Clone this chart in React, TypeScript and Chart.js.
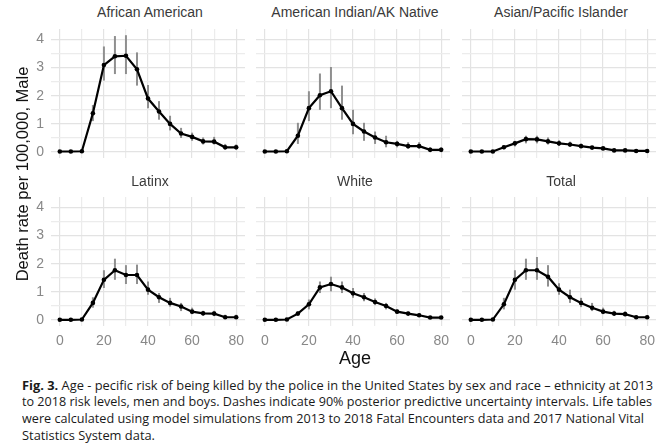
import React, { useEffect, useLayoutEffect, useRef, useState } from "react";
import { Chart, registerables } from "chart.js";
Chart.register(...registerables);

const ages = [0, 5, 10, 15, 20, 25, 30, 35, 40, 45, 50, 55, 60, 65, 70, 75, 80];
const xTicks = [0, 10, 20, 30, 40, 50, 60, 70, 80];
const yTicks = [0, 0.5, 1, 1.5, 2, 2.5, 3, 3.5, 4];

const panelTitles = ["African American", "American Indian/AK Native", "Asian/Pacific Islander", "Latinx", "White", "Total"];

const africanAmerican = [0.02, 0.02, 0.03, 1.38, 3.09, 3.4, 3.42, 2.94, 1.9, 1.44, 1.0, 0.66, 0.54, 0.38, 0.37, 0.17, 0.17];
const africanAmericanLo = [0.0, 0.0, 0.01, 1.1, 2.54, 2.77, 2.77, 2.36, 1.56, 1.15, 0.77, 0.5, 0.4, 0.27, 0.27, 0.08, 0.08];
const africanAmericanHi = [0.05, 0.05, 0.07, 1.67, 3.75, 4.12, 4.15, 3.54, 2.38, 1.81, 1.29, 0.86, 0.69, 0.52, 0.54, 0.29, 0.27];

const amIndian = [0.02, 0.02, 0.03, 0.58, 1.56, 2.02, 2.16, 1.56, 1.0, 0.73, 0.52, 0.35, 0.29, 0.21, 0.21, 0.08, 0.08];
const amIndianLo = [0, 0, 0, 0.29, 1.1, 1.5, 1.56, 1.15, 0.63, 0.4, 0.29, 0.17, 0.17, 0.12, 0.12, 0.03, 0.03];
const amIndianHi = [0.06, 0.06, 0.08, 1.04, 2.16, 2.79, 3.02, 2.36, 1.5, 1.04, 0.73, 0.58, 0.4, 0.35, 0.35, 0.17, 0.17];

const asianPI = [0.02, 0.02, 0.02, 0.17, 0.31, 0.46, 0.45, 0.38, 0.31, 0.27, 0.21, 0.16, 0.13, 0.06, 0.06, 0.04, 0.04];
const asianPILo = [0, 0, 0, 0.1, 0.2, 0.31, 0.31, 0.27, 0.22, 0.18, 0.14, 0.1, 0.08, 0.03, 0.03, 0.01, 0.01];
const asianPIHi = [0.04, 0.04, 0.04, 0.24, 0.4, 0.58, 0.58, 0.52, 0.42, 0.37, 0.3, 0.22, 0.18, 0.1, 0.1, 0.07, 0.07];

const latinx = [0.01, 0.01, 0.02, 0.61, 1.43, 1.77, 1.6, 1.6, 1.08, 0.81, 0.61, 0.48, 0.3, 0.24, 0.23, 0.1, 0.1];
const latinxLo = [0, 0, 0, 0.44, 1.14, 1.43, 1.28, 1.28, 0.9, 0.61, 0.48, 0.32, 0.21, 0.16, 0.14, 0.05, 0.05];
const latinxHi = [0.03, 0.03, 0.04, 0.81, 1.77, 2.18, 1.95, 1.97, 1.37, 0.96, 0.79, 0.61, 0.44, 0.33, 0.33, 0.19, 0.19];

const white = [0.01, 0.01, 0.02, 0.23, 0.56, 1.16, 1.28, 1.16, 0.95, 0.81, 0.64, 0.5, 0.3, 0.23, 0.17, 0.09, 0.09];
const whiteLo = [0, 0, 0, 0.17, 0.38, 0.96, 1.02, 0.96, 0.79, 0.67, 0.53, 0.38, 0.22, 0.17, 0.12, 0.05, 0.05];
const whiteHi = [0.03, 0.03, 0.04, 0.31, 0.73, 1.37, 1.54, 1.37, 1.14, 0.96, 0.77, 0.61, 0.38, 0.3, 0.23, 0.14, 0.14];

const total = [0.01, 0.01, 0.02, 0.56, 1.43, 1.77, 1.77, 1.54, 1.08, 0.81, 0.61, 0.44, 0.3, 0.23, 0.21, 0.1, 0.1];
const totalLo = [0, 0, 0, 0.38, 1.08, 1.43, 1.43, 1.19, 0.9, 0.61, 0.46, 0.32, 0.21, 0.16, 0.14, 0.06, 0.06];
const totalHi = [0.03, 0.03, 0.04, 0.79, 1.77, 2.18, 2.24, 1.95, 1.31, 1.08, 0.79, 0.61, 0.44, 0.33, 0.31, 0.16, 0.16];

const panelValues = [africanAmerican, amIndian, asianPI, latinx, white, total];
const panelLo = [africanAmericanLo, amIndianLo, asianPILo, latinxLo, whiteLo, totalLo];
const panelHi = [africanAmericanHi, amIndianHi, asianPIHi, latinxHi, whiteHi, totalHi];

const captionLines = [
  "Age - pecific risk of being killed by the police in the United States by sex and race \u2013 ethnicity at 2013",
  "to 2018 risk levels, men and boys. Dashes indicate 90% posterior predictive uncertainty intervals. Life tables",
  "were calculated using model simulations from 2013 to 2018 Fatal Encounters data and 2017 National Vital",
  "Statistics System data.",
];
const captionLineWidths = [631, 630, 622, 133];

// layout geometry
const COL_LEFT = [51, 256, 462];
const AREA_W = 198;
const ROW_TOP = [25, 193];
const AREA_H = 133;
const YW = 40;
const XH = 34;
const TICK_FONT = { family: "'Liberation Sans', Arial, sans-serif", size: 14 };

const errorBarPlugin = {
  id: "errorbars",
  beforeDatasetsDraw(chart: any, _args: any, opts: any) {
    const xs = chart.scales.x;
    const ys = chart.scales.y;
    const ctx = chart.ctx;
    ctx.save();
    ctx.strokeStyle = opts.color || "#8f8f8f";
    ctx.lineWidth = opts.width || 2;
    const lo: number[] = opts.lo || [];
    const hi: number[] = opts.hi || [];
    const xv: number[] = opts.x || [];
    for (let i = 0; i < xv.length; i++) {
      const x = xs.getPixelForValue(xv[i]);
      ctx.beginPath();
      ctx.moveTo(x, ys.getPixelForValue(lo[i]));
      ctx.lineTo(x, ys.getPixelForValue(hi[i]));
      ctx.stroke();
    }
    ctx.restore();
  },
};

function Panel({ idx }: { idx: number }) {
  const ref = useRef<HTMLCanvasElement>(null);
  const col = idx % 3;
  const row = Math.floor(idx / 3);
  useEffect(() => {
    if (!ref.current) return;
    const values = panelValues[idx];
    const chart = new Chart(ref.current, {
      type: "line",
      data: {
        datasets: [
          {
            data: ages.map((a, i) => ({ x: a, y: values[i] })),
            borderColor: "#000000",
            borderWidth: 2.2,
            pointRadius: 2.3,
            pointBackgroundColor: "#000000",
            pointBorderWidth: 0,
            tension: 0,
          },
        ],
      },
      options: {
        animation: false,
        responsive: false,
        events: [],
        layout: { padding: 0 },
        plugins: {
          legend: { display: false },
          tooltip: { enabled: false },
          title: { display: false },
          errorbars: { x: ages, lo: panelLo[idx], hi: panelHi[idx], color: "#8f8f8f", width: 2 },
        } as any,
        scales: {
          x: {
            type: "linear",
            min: -4,
            max: 84,
            border: { display: false },
            grid: {
              color: (c: any) => (c.tick && c.tick.value % 20 === 0 ? "#e3e3e3" : "#ececec"),
              lineWidth: 1.2,
              drawTicks: false,
            },
            ticks: {
              autoSkip: false,
              maxRotation: 0,
              padding: 7,
              color: "#888888",
              font: TICK_FONT,
              callback: (v: any) => (row === 1 && Number(v) % 20 === 0 ? String(v) : ""),
            },
            afterBuildTicks: (s: any) => {
              s.ticks = xTicks.map((v) => ({ value: v }));
            },
            afterFit: (s: any) => {
              s.height = XH;
              s.paddingLeft = 0;
              s.paddingRight = 0;
            },
          },
          y: {
            type: "linear",
            min: -0.21,
            max: 4.37,
            border: { display: false },
            grid: {
              color: (c: any) => (c.tick && Number.isInteger(c.tick.value) ? "#e3e3e3" : "#ececec"),
              lineWidth: 1.2,
              drawTicks: false,
            },
            ticks: {
              autoSkip: false,
              padding: 7,
              color: "#888888",
              font: TICK_FONT,
              callback: (v: any) => (col === 0 && Number.isInteger(Number(v)) ? String(v) : ""),
            },
            afterBuildTicks: (s: any) => {
              s.ticks = yTicks.map((v) => ({ value: v }));
            },
            afterFit: (s: any) => {
              s.width = YW;
              s.paddingTop = 0;
              s.paddingBottom = 0;
            },
          },
        },
      },
      plugins: [errorBarPlugin as any],
    });
    return () => chart.destroy();
  }, [idx]);

  const left = COL_LEFT[col] - YW;
  const top = ROW_TOP[row];
  return (
    <canvas
      ref={ref}
      width={YW + AREA_W}
      height={AREA_H + XH}
      style={{ position: "absolute", left, top, width: YW + AREA_W, height: AREA_H + XH }}
    />
  );
}

function CaptionLine({ index, text }: { index: number; text: string }) {
  const ref = useRef<HTMLSpanElement>(null);
  const [scale, setScale] = useState(1);
  useLayoutEffect(() => {
    const el = ref.current;
    if (!el) return;
    const w = el.getBoundingClientRect().width;
    if (w > 0) setScale(captionLineWidths[index] / w);
  }, [index]);
  return (
    <div style={{ height: 16.8, whiteSpace: "nowrap" }}>
      <span
        ref={ref}
        style={{ display: "inline-block", transform: `scaleX(${scale})`, transformOrigin: "0 0" }}
      >
        {index === 0 ? <b>Fig. 3. </b> : null}
        {text}
      </span>
    </div>
  );
}

function Caption() {
  return (
    <div
      style={{
        position: "absolute",
        left: 22,
        top: 376.6,
        fontFamily: "'Open Sans', 'Noto Sans', sans-serif",
        fontSize: 13,
        lineHeight: "16.8px",
        color: "#1a1a1a",
        whiteSpace: "nowrap",
      }}
    >
      {captionLines.map((t, i) => (
        <CaptionLine key={i} index={i} text={t} />
      ))}
    </div>
  );
}

export default function App() {
  const titleStyle = (cx: number, cy: number): React.CSSProperties => ({
    position: "absolute",
    left: cx - 150,
    width: 300,
    top: cy - 9,
    height: 18,
    lineHeight: "18px",
    textAlign: "center",
    fontFamily: "'Liberation Sans', Arial, sans-serif",
    fontSize: 14,
    color: "#3a3a3a",
    whiteSpace: "nowrap",
  });
  const titleY = [12, 181];
  return (
    <div
      style={{
        position: "fixed",
        left: 0,
        top: 0,
        width: 658,
        height: 447,
        overflow: "hidden",
        background: "#ffffff",
      }}
    >
      {panelTitles.map((_, i) => (
        <Panel key={i} idx={i} />
      ))}
      {panelTitles.map((t, i) => {
        const col = i % 3;
        const row = Math.floor(i / 3);
        return (
          <div key={"t" + i} style={titleStyle(COL_LEFT[col] + AREA_W / 2, titleY[row])}>
            {t}
          </div>
        );
      })}
      <div
        style={{
          position: "absolute",
          left: 22 - 150,
          top: 174 - 10,
          width: 300,
          height: 20,
          lineHeight: "20px",
          textAlign: "center",
          transform: "rotate(-90deg)",
          fontFamily: "'Liberation Sans', Arial, sans-serif",
          fontSize: 16.5,
          color: "#111",
          whiteSpace: "nowrap",
        }}
      >
        Death rate per 100,000, Male
      </div>
      <div
        style={{
          position: "absolute",
          left: 355 - 50,
          top: 358 - 11,
          width: 100,
          height: 22,
          lineHeight: "22px",
          textAlign: "center",
          fontFamily: "'Liberation Sans', Arial, sans-serif",
          fontSize: 18,
          color: "#111",
        }}
      >
        Age
      </div>
      <Caption />
    </div>
  );
}
